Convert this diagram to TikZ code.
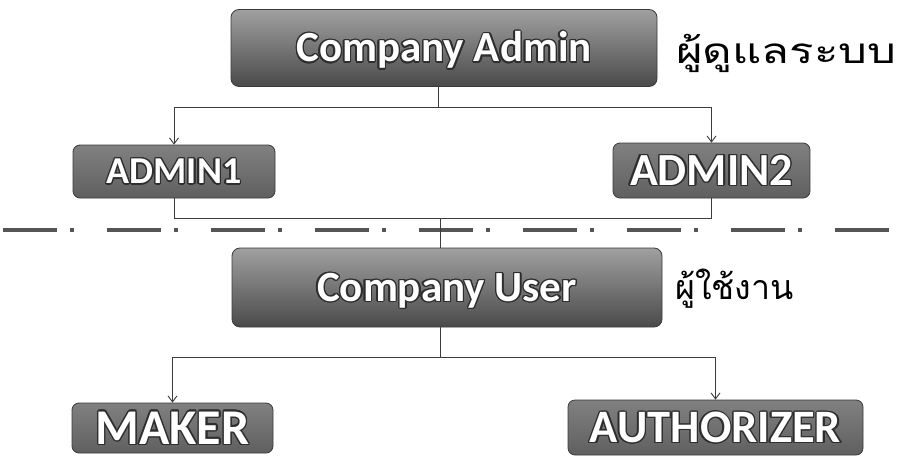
\documentclass[tikz,border=0pt]{standalone}
\usepackage{fontspec}
\setmainfont{Carlito}
\newfontfamily\thaifont[Script=Thai]{Loma}
\newfontfamily\thaiwide[Script=Thai, FakeStretch=1.3]{Loma}
\usepackage{contour}
\contourlength{1.3pt}
\usetikzlibrary{arrows.meta}
\definecolor{boxtop}{HTML}{A0A0A0}
\definecolor{boxbot}{HTML}{4A4A4A}
\definecolor{boxmid}{HTML}{6A6A6A}
\definecolor{boxline}{HTML}{3A3A3A}
\definecolor{txtline}{HTML}{2E2E2E}
\definecolor{conn}{HTML}{3C3C3C}
\definecolor{sep}{HTML}{555555}
\newcommand{\boxtext}[1]{\contour{txtline}{\textcolor{white}{#1}}}
\tikzset{
  boxbase/.style={draw=boxline, line width=0.8pt, inner sep=0pt, text depth=0pt},
  bigbox/.style={boxbase, rounded corners=8pt, top color=boxtop, bottom color=boxbot, font=\bfseries\fontsize{43}{46}\selectfont, text height=27.7pt},
  subbox/.style={boxbase, rounded corners=7pt, top color=boxmid!85!white, bottom color=boxmid!90!black},
  conline/.style={draw=conn, line width=0.9pt},
  arr/.style={conline, -{Straight Barb[length=6pt, width=9pt, line width=0.9pt]}},
  thailabel/.style={anchor=base west, inner sep=0pt, text=black}
}
\begin{document}
\begin{tikzpicture}[x=1pt, y=-1pt]
\useasboundingbox (0,0) rectangle (899,455);
\fill[white] (0,0) rectangle (899,455);

\node[bigbox, minimum width=426pt, minimum height=77pt] (ca) at (444,48) {\boxtext{Company Admin}};
\node[subbox, minimum width=202pt, minimum height=53pt, font=\bfseries\fontsize{38}{40}\selectfont, text height=24.5pt] (a1) at (174,171.5) {\boxtext{ADMIN1}};
\node[subbox, minimum width=197pt, minimum height=55pt, font=\bfseries\fontsize{46}{48}\selectfont, text height=29.6pt] (a2) at (711.5,170.5) {\boxtext{ADMIN2}};
\node[bigbox, minimum width=430pt, minimum height=79pt] (cu) at (447,287.5) {\boxtext{Company User}};
\node[subbox, minimum width=201pt, minimum height=50pt, font=\bfseries\fontsize{50}{52}\selectfont, text height=32.2pt] (mk) at (172.5,428) {\boxtext{MAKER}};
\node[subbox, minimum width=295pt, minimum height=55pt, font=\bfseries\fontsize{46.5}{48}\selectfont, text height=30pt] (au) at (715.5,427.5) {\boxtext{AUTHORIZER}};

\node[thailabel, font=\thaiwide\fontsize{35}{40}\selectfont] (t1) at (676,63) {ผู้ดูแลระบบ};
\node[thailabel, font=\thaifont\fontsize{34}{38}\selectfont] (t2) at (675,299) {ผู้ใช้งาน};

\coordinate (j1) at (438,107);
\coordinate (j2) at (440,218);
\coordinate (j3) at (440,357);
\coordinate (s1) at (3,230);
\coordinate (s2) at (899,230);

\draw[sep, line width=4pt, dash pattern=on 54pt off 13pt on 4pt off 33pt] (s1) -- (s2);

\draw[conline] (ca.south -| j1) -- (j1);
\draw[arr] (j1) -| (a1.north);
\draw[arr] (j1) -| (a2.north);
\draw[conline] (a1.south) |- (j2);
\draw[conline] (a2.south) |- (j2);
\draw[conline] (j2) -- (cu.north -| j2);
\draw[conline] (cu.south -| j3) -- (j3);
\draw[arr] (j3) -| (mk.north);
\draw[arr] (j3) -| (au.north);
\end{tikzpicture}
\end{document}
